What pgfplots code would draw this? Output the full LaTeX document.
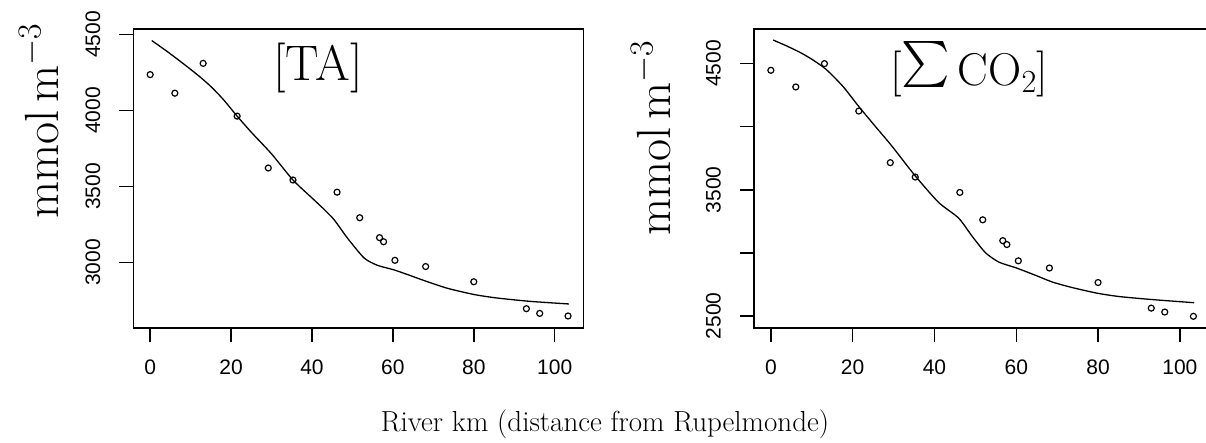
\RequirePackage{fix-cm}
\documentclass[border=0pt]{standalone}
\usepackage{amsmath}
\usepackage{fontspec}
\usepackage{pgfplots}
\pgfplotsset{compat=1.18}
\newfontfamily\arial{Liberation Sans}
\pgfplotsset{
  rstyle/.style={
    scale only axis,
    height=298.4pt,
    axis line style={line width=1.7pt},
    every tick/.style={line width=1.5pt, black},
    tick align=outside,
    major tick length=14pt,
    tick pos=left,
    xmin=-4.12, xmax=107.12,
    xtick={0,20,...,100},
    ticklabel style={font=\arial\fontsize{21}{24}\selectfont, inner sep=0pt},
    /pgf/number format/assume math mode=true,
    /pgf/number format/set thousands separator={},
    xticklabel style={anchor=north, yshift=-18pt},
    yticklabel style={rotate=90, anchor=south, yshift=19pt},
  },
  pts/.style={only marks, mark=o, mark size=3pt, mark options={line width=1.2pt, black}},
  fit/.style={no marks, line width=1.3pt, black, smooth, tension=0.4},
}
\begin{document}
\begin{tikzpicture}[x=1pt,y=1pt]
\begin{axis}[rstyle, at={(133.5pt,115.3pt)}, anchor=south west, width=450pt,
  ymin=2572, ymax=4534, ytick={3000,3500,4000,4500}]
\addplot[fit] coordinates {(0.4,4460) (4,4392) (8,4312) (12,4228) (15,4158) (18,4075) (21.5,3963) (25,3857) (30,3715) (35.3,3543) (40,3425) (43,3350) (45.5,3281) (48.8,3160) (52.9,3030) (56.2,2982) (60.3,2952) (64.4,2914) (67.7,2882) (73.5,2831) (80.1,2790) (85.8,2767) (94,2745) (103.5,2728)};
\addplot[pts] coordinates {(0,4236) (6.1,4114) (13.1,4310) (21.5,3963) (29.2,3622) (35.3,3543) (46.2,3463) (51.8,3295) (56.7,3164) (57.7,3137) (60.5,3015) (68.1,2974) (80,2874) (93,2697) (96.3,2666) (103.3,2649)};
\node[font=\fontsize{50}{56}\selectfont, inner sep=0pt] at (axis cs:41.5,4280) {[TA]};
\end{axis}
\begin{axis}[rstyle, at={(754pt,115.3pt)}, anchor=south west, width=455pt,
  ymin=2407, ymax=4772, ytick={2500,3000,3500,4000,4500}, yticklabels={2500,,3500,,4500}]
\addplot[fit] coordinates {(0.55,4687) (4,4638) (7.3,4586) (10,4535) (13.3,4460) (16,4375) (18,4305) (21.5,4160) (25.6,4000) (29.5,3850) (35.3,3610) (41,3400) (45.9,3276) (49.2,3132) (52.5,3000) (55.8,2926) (59.9,2882) (64.8,2821) (68.9,2768) (73.8,2724) (80,2679) (85.4,2653) (93.6,2629) (103.5,2605)};
\addplot[pts] coordinates {(0,4447) (6.1,4315) (13.1,4500) (21.5,4124) (29.2,3715) (35.3,3601) (46.2,3479) (51.8,3262) (56.7,3097) (57.7,3066) (60.5,2937) (68.1,2880) (80,2765) (93,2562) (96.3,2531) (103.3,2497)};
\node[font=\fontsize{46}{52}\selectfont, inner sep=0pt] at (axis cs:48.5,4455) {[\resizebox*{!}{1.0em}{$\sum$}\,CO\textsubscript{2}]};
\end{axis}
\node[rotate=90, anchor=base, inner sep=0pt, font=\fontsize{48}{54}\selectfont] at (58pt,322pt) {mmol\,m$^{-3}$};
\node[rotate=90, anchor=base, inner sep=0pt, font=\fontsize{48}{54}\selectfont] at (670pt,305pt) {mmol\,m$^{-3}$};
\node[anchor=base, inner sep=0pt, font=\fontsize{29}{34}\selectfont] at (605pt,11.5pt) {River km (distance from Rupelmonde)};
\pgfresetboundingbox
\useasboundingbox (0,0) rectangle (1206pt,443pt);
\end{tikzpicture}
\end{document}
